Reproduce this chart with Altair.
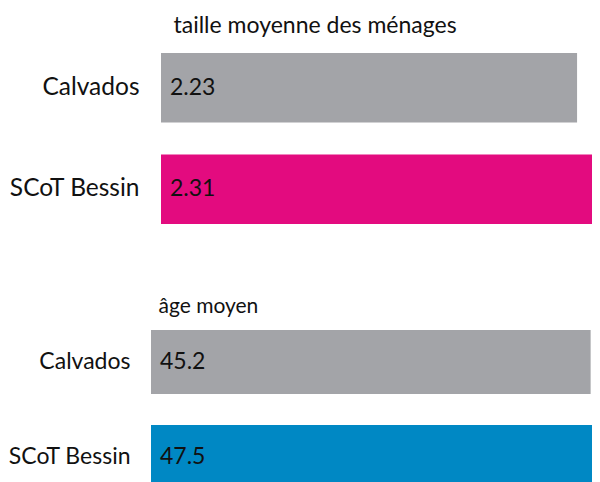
import altair as alt
import pandas as pd

territories = ["Calvados", "SCoT Bessin"]
taille_values = [2.23, 2.31]
age_values = [45.2, 47.5]
taille_colors = ["#a3a4a8", "#e30b7f"]
age_colors = ["#a3a4a8", "#0088c4"]
taille_title = "taille moyenne des ménages"
age_title = "âge moyen"

FONT = "Lato"

df_t = pd.DataFrame({"territoire": territories, "valeur": taille_values})
df_a = pd.DataFrame({"territoire": territories, "valeur": age_values})


def panel(df, colors, title, xrange, yrange, pad_inner, label_size, label_pad,
          value_size, fmt, title_x, title_y, title_size):
    base = alt.Chart(df)
    y = alt.Y("territoire:N", sort=territories,
              scale=alt.Scale(range=yrange, paddingInner=pad_inner, paddingOuter=0),
              axis=alt.Axis(orient="left", domain=False, ticks=False, grid=False,
                            labelFont=FONT, labelFontSize=label_size,
                            labelColor="#111111", labelPadding=label_pad,
                            title=title, titleAngle=0, titleX=title_x, titleY=title_y,
                            titleAlign="left", titleBaseline="alphabetic",
                            titleFont=FONT, titleFontSize=title_size,
                            titleFontWeight="normal", titleColor="#111111"))
    xscale = alt.Scale(zero=True, nice=False, range=xrange)
    bars = base.mark_bar(clip=True).encode(
        x=alt.X("valeur:Q", scale=xscale, axis=None),
        y=y,
        color=alt.Color("territoire:N", scale=alt.Scale(domain=territories, range=colors),
                        legend=None),
    )
    labels = base.mark_text(align="left", baseline="middle", dx=9,
                            font=FONT, fontSize=value_size, color="#111111").encode(
        x=alt.datum(0),
        y=y,
        text=alt.Text("valeur:Q", format=fmt),
    )
    return alt.layer(bars, labels)


top = panel(df_t, taille_colors, taille_title, [10, 441], [45, 216], 0.314,
            24.5, 12, 23, ".2f", 22, 24, 23)
bottom = panel(df_a, age_colors, age_title, [0, 462], [322, 481], 0.326,
               23, 21, 23, ".1f", 7, 304, 21)

chart = alt.layer(top, bottom).resolve_scale(
    x="independent", y="independent", color="independent"
).properties(
    width=441, height=474,
    autosize=alt.AutoSizeParams(type="none"),
    padding={"left": 143, "top": 0, "right": 0, "bottom": 0},
    background="white",
).configure_view(stroke=None)

chart.save("out.html", embed_options={"renderer": "svg", "actions": False})
